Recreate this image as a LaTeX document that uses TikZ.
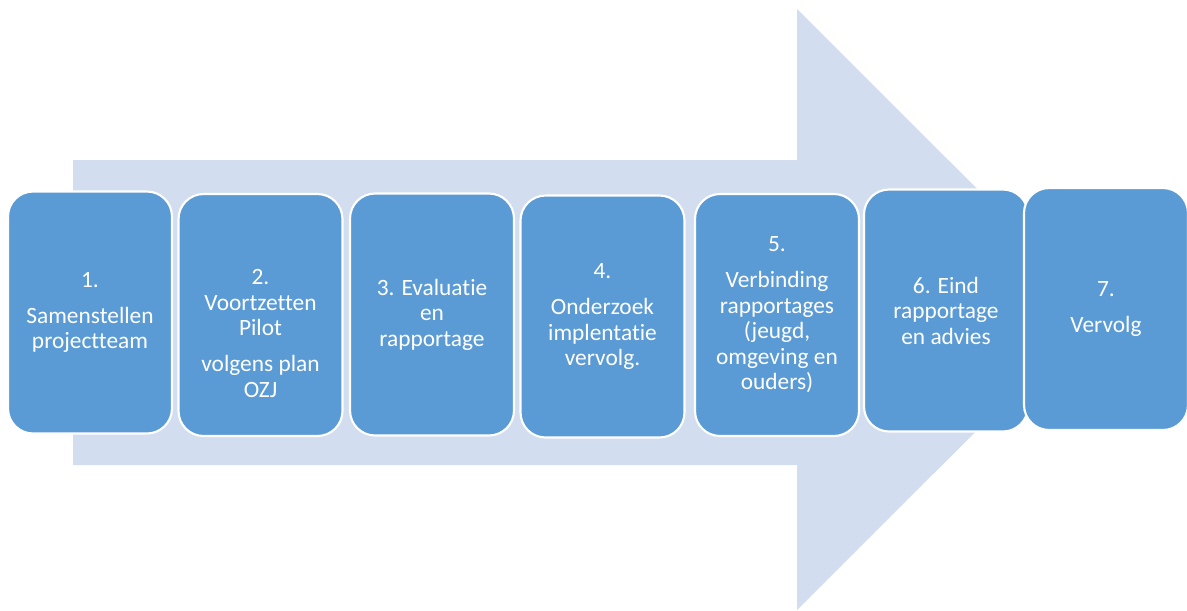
\documentclass[tikz,border=0pt]{standalone}
\usepackage{fontspec}
\setmainfont[Ligatures={NoCommon}]{Carlito}
\definecolor{stapblauw}{HTML}{5B9BD5}
\definecolor{pijlblauw}{HTML}{D2DEEF}

\tikzset{
  stap/.style={draw=white, line width=1.2pt, fill=stapblauw, rounded corners=0.5cm,
    minimum width=3.28cm, minimum height=4.84cm},
  staptekst/.style={text=white, align=center, font=\fontsize{13.3}{14.5}\selectfont},
}

\begin{document}
\begin{tikzpicture}[x=0.02cm, y=-0.02cm]
\useasboundingbox (0,0) rectangle (1187,610);

% grote pijl op de achtergrond
\fill[pijlblauw] (73,160) -- (797,160) -- (797,9) -- (1098,309.5) -- (797,610)
  -- (797,465) -- (73,465) -- cycle;

% de stappen
\node[stap] (s1) at (90,312.5) {};
\node[stap] (s2) at (260.5,315) {};
\node[stap] (s3) at (432,314.5) {};
\node[stap] (s4) at (602.5,316.5) {};
\node[stap] (s5) at (777,315) {};
\node[stap] (s6) at (946,310.5) {};
\node[stap] (s7) at (1106,309) {};

\node[staptekst] (t1) at (s1) {1.\\[6pt]Samenstellen\\projectteam};
\node[staptekst, yshift=-0.37cm] (t2) at (s2) {2.\\Voortzetten\\Pilot\\[6pt]volgens plan\\OZJ};
\node[staptekst] (t3) at (s3) {3. Evaluatie\\en\\rapportage};
\node[staptekst] (t4) at (s4) {4.\\[6pt]Onderzoek\\implentatie\\vervolg.};
\node[staptekst] (t5) at (s5) {5.\\[6pt]Verbinding\\rapportages\\(jeugd,\\omgeving en\\ouders)};
\node[staptekst] (t6) at (s6) {6. Eind\\rapportage\\en advies};
\node[staptekst] (t7) at (s7) {7.\\[6pt]Vervolg};
\end{tikzpicture}
\end{document}
